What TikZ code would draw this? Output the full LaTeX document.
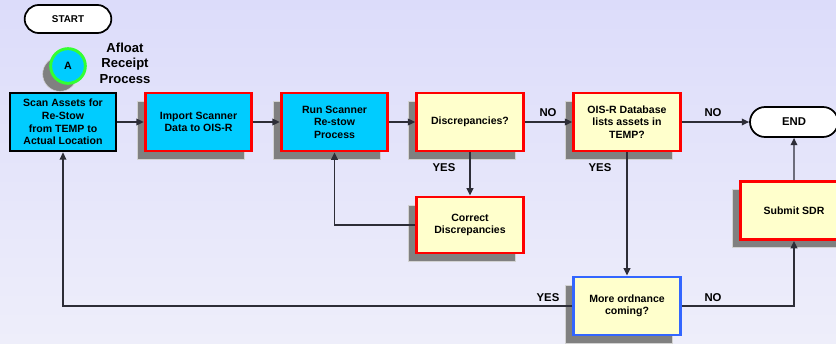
\documentclass[tikz,border=0pt]{standalone}
\usepackage{fontspec}
\setmainfont{Liberation Sans}
\usetikzlibrary{arrows.meta, shadows, shapes.misc}
\definecolor{bgtop}{RGB}{220,220,250}
\definecolor{bgbot}{RGB}{238,238,250}
\definecolor{scancyan}{RGB}{0,204,255}
\definecolor{askyellow}{RGB}{255,255,204}
\definecolor{edgered}{RGB}{255,0,0}
\definecolor{edgeblue}{RGB}{51,102,255}
\definecolor{edgegreen}{RGB}{51,255,51}
\definecolor{shadegray}{RGB}{128,128,128}
\definecolor{inkgray}{RGB}{45,45,55}

\begin{document}
\begin{tikzpicture}[
  x=0.75pt, y=-0.75pt,
  shad/.style={drop shadow={shadow xshift=-6pt, shadow yshift=-6pt, fill=shadegray, opacity=1, draw=gray!35, line width=0.4pt}},
  boxtext/.style={align=center, inner sep=2pt, font=\bfseries\fontsize{7.9}{9.4}\selectfont},
  cbox/.style={boxtext, draw=edgered, line width=2.2pt, fill=scancyan, minimum width=80pt, minimum height=43.5pt, shad},
  ybox/.style={boxtext, draw=edgered, line width=2.2pt, fill=askyellow, minimum width=80pt, minimum height=43.5pt, shad},
  tbox/.style={rounded rectangle, draw=black, line width=1.3pt, fill=white, inner sep=0pt},
  lbl/.style={font=\bfseries\fontsize{8.5}{10}\selectfont, inner sep=1pt},
  link/.style={draw=inkgray, line width=1.1pt, -{Triangle[length=5.5pt, width=5pt]}},
  wire/.style={draw=inkgray, line width=1.1pt}
]
  % background
  \shade[top color=bgtop, bottom color=bgbot] (0,0) rectangle (836,343);
  \useasboundingbox (0,0) rectangle (836,343);

  % terminals and entry point
  \node[tbox, minimum width=65pt, minimum height=21pt, font=\bfseries\fontsize{7.4}{9}\selectfont] (start) at (68,19) {START};
  \node[circle, draw=edgegreen, line width=2.2pt, fill=scancyan, minimum size=26pt, inner sep=0pt, shad, font=\bfseries\fontsize{8}{9}\selectfont] (entryA) at (68,66) {A};
  \node[align=center, font=\bfseries\fontsize{9.8}{11.6}\selectfont] (title) at (125,63) {Afloat\\Receipt\\Process};
  \node[tbox, minimum width=66pt, minimum height=22.5pt, font=\bfseries\fontsize{8.5}{10}\selectfont] (finish) at (794,122) {END};

  % process boxes
  \node[boxtext, draw=black, line width=1.5pt, fill=scancyan, minimum width=79.5pt, minimum height=44pt] (scan) at (63,122) {Scan Assets for\\Re-Stow\\from TEMP to\\Actual Location};
  \node[cbox] (import) at (198.5,122) {Import Scanner\\Data to OIS-R};
  \node[cbox] (rescan) at (334.5,122) {Run Scanner\\Re-stow\\Process};
  \node[ybox] (discrep) at (470,122) {Discrepancies?};
  \node[ybox] (oisr) at (627,122) {OIS-R Database\\lists assets in\\TEMP?};
  \node[ybox, minimum height=42pt] (correct) at (470,225) {Correct\\Discrepancies};
  \node[ybox, draw=edgeblue] (more) at (627,306) {More ordnance\\coming?};
  \node[ybox] (submit) at (794,210.5) {Submit SDR};

  % connectors
  \draw[link] (scan) -- (import);
  \draw[link] (import) -- (rescan);
  \draw[link] (rescan) -- (discrep);
  \draw[link] (discrep) -- (oisr);
  \draw[link] (oisr) -- (finish);
  \draw[link] (discrep) -- (correct);
  \draw[link] (correct.west) -| (rescan.south);
  \draw[link] (oisr) -- (more);
  \draw[link] (more.west) -| (scan.south);
  \draw[link] (more.east) -| (submit.south);
  \draw[link] (submit) -- (finish);

  % branch labels
  \node[lbl] (noA) at (548,113) {NO};
  \node[lbl] (noB) at (713,113) {NO};
  \node[lbl] (yesA) at (444,168) {YES};
  \node[lbl] (yesB) at (600,168) {YES};
  \node[lbl] (yesC) at (548,298) {YES};
  \node[lbl] (noC) at (713,298) {NO};
\end{tikzpicture}
\end{document}
